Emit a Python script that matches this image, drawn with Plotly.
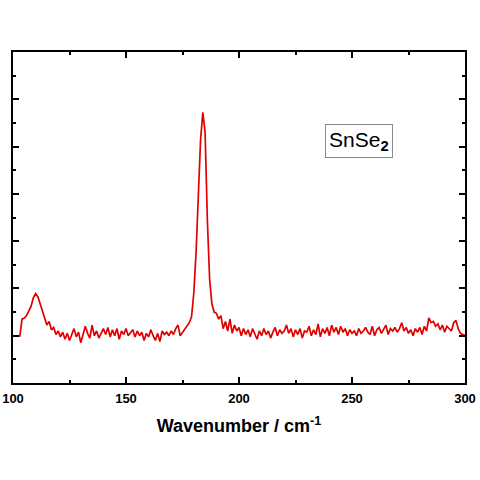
import plotly.graph_objects as go

# Raman spectrum of SnSe2 (arb. units)
wavenumber = list(range(103, 301))
intensity = [
    1.95, 2.70, 2.75, 2.85, 3.05, 3.25, 3.60, 3.78, 3.65, 3.35,  # 103-112
    3.00, 2.70, 2.45, 2.60, 2.25, 2.35, 2.05, 2.20, 1.95, 2.15,  # 113-122
    1.85, 2.10, 1.80, 2.05, 2.30, 1.95, 2.15, 1.70, 2.00, 2.40,  # 123-132
    2.10, 1.90, 2.45, 2.00, 2.20, 1.90, 2.10, 2.30, 2.05, 2.35,  # 133-142
    1.95, 2.25, 2.00, 2.30, 1.85, 2.20, 2.05, 2.30, 2.00, 2.15,  # 143-152
    2.25, 1.95, 2.20, 2.00, 2.15, 1.80, 2.10, 1.95, 2.25, 2.00,  # 153-162
    1.80, 2.10, 1.75, 2.20, 2.05, 2.15, 2.00, 2.20, 2.05, 2.30,  # 163-172
    2.45, 2.00, 2.15, 2.30, 2.45, 2.55, 2.80, 3.80, 5.50, 7.75,  # 173-182
    10.3, 11.45, 10.6, 6.90, 4.40, 3.35, 3.00, 2.95, 2.70, 2.85,  # 183-192
    2.30, 2.60, 2.20, 2.70, 2.10, 2.45, 2.20, 2.35, 2.00, 2.30,  # 193-202
    2.05, 2.25, 1.95, 2.30, 2.10, 1.85, 2.20, 2.00, 2.30, 2.05,  # 203-212
    2.20, 1.90, 2.15, 2.35, 2.00, 2.25, 2.10, 2.20, 2.45, 2.10,  # 213-222
    2.30, 1.95, 2.25, 2.05, 2.30, 1.90, 2.20, 2.15, 2.40, 2.00,  # 223-232
    2.25, 2.05, 2.50, 1.95, 2.30, 2.10, 2.35, 2.00, 2.45, 2.15,  # 233-242
    2.35, 2.05, 2.40, 2.15, 2.30, 2.00, 2.25, 2.10, 2.20, 2.00,  # 243-252
    2.30, 2.10, 2.20, 2.35, 2.15, 2.05, 2.40, 2.00, 2.25, 2.35,  # 253-262
    2.10, 2.30, 2.45, 2.05, 2.30, 2.20, 2.35, 2.15, 2.30, 2.55,  # 263-272
    2.20, 2.35, 2.10, 2.25, 2.00, 2.30, 2.15, 2.35, 2.05, 2.40,  # 273-282
    2.20, 2.75, 2.55, 2.60, 2.40, 2.50, 2.25, 2.45, 2.15, 2.40,  # 283-292
    2.30, 2.20, 2.55, 2.65, 2.30, 2.10, 2.05, 2.00,              # 293-300
]

x_ticks = [100, 150, 200, 250, 300]
label_text = "SnSe<sub><b>2</b></sub>"

fig = go.Figure()
fig.add_trace(go.Scatter(
    x=wavenumber,
    y=intensity,
    mode="lines",
    line=dict(color="#e00000", width=1.7),
    showlegend=False,
))

# Sample label in a thin grey box
fig.add_annotation(
    x=253, y=10.25, xref="x", yref="y",
    text=label_text,
    showarrow=False,
    font=dict(family="Liberation Sans, Arial", size=21, color="black"),
    bordercolor="#8a8a8a", borderwidth=1, borderpad=3,
    bgcolor="white",
)

axis_common = dict(
    showline=True, linecolor="black", linewidth=2, mirror="ticks",
    ticks="inside", ticklen=6, tickwidth=1.5, tickcolor="black",
    showgrid=False, zeroline=False, automargin=False,
)

fig.update_layout(
    width=480, height=480,
    paper_bgcolor="white", plot_bgcolor="white",
    margin=dict(l=13, r=15, t=52, b=97),
    xaxis=dict(
        range=[100, 300], tickvals=x_ticks,
        minor=dict(dtick=25, ticks="inside", ticklen=3, tickwidth=1.5, tickcolor="black"),
        tickfont=dict(family="Liberation Sans, Arial", size=13, color="black", weight="bold"),
        ticklabelstandoff=2,
        title=dict(
            text="Wavenumber / cm<sup>-1</sup>",
            font=dict(family="Liberation Sans, Arial", size=18, color="black", weight="bold"),
            standoff=15,
        ),
        **axis_common,
    ),
    yaxis=dict(
        range=[0, 14], tickvals=[2, 4, 6, 8, 10, 12], showticklabels=False,
        minor=dict(dtick=1, ticks="inside", ticklen=3, tickwidth=1.5, tickcolor="black"),
        **axis_common,
    ),
)

# drop the browser's default body margin so the 480px figure fills the window
fig.write_html(
    "out.html",
    config={"displayModeBar": False},
    post_script="document.body.style.margin='0';",
)
